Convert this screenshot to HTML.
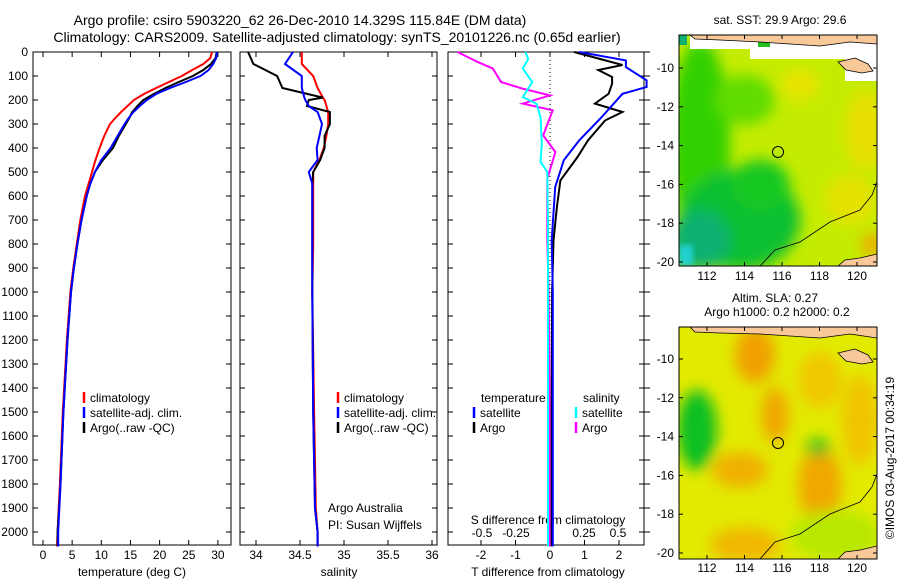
<!DOCTYPE html>
<html><head><meta charset="utf-8">
<style>
body{margin:0;background:#fff;}
svg{display:block;font-family:"Liberation Sans",sans-serif;}
text{font-size:12px;fill:#000;}
</style></head>
<body>
<svg id="chart" width="900" height="580" viewBox="0 0 900 580">
<defs>
<filter id="blur6" x="-20%" y="-20%" width="140%" height="140%"><feGaussianBlur stdDeviation="7"/></filter>
<filter id="blur3" x="-20%" y="-20%" width="140%" height="140%"><feGaussianBlur stdDeviation="3"/></filter>
<clipPath id="clipTop"><rect x="679" y="35" width="198" height="231"/></clipPath>
<clipPath id="clipBot"><rect x="679" y="327" width="198" height="232"/></clipPath>
</defs>
<text x="300" y="25" text-anchor="middle" style="font-size:14px">Argo profile: csiro 5903220_62 26-Dec-2010 14.329S 115.84E (DM data)</text>
<text x="337" y="42" text-anchor="middle" style="font-size:14px">Climatology: CARS2009. Satellite-adjusted climatology: synTS_20101226.nc (0.65d earlier)</text>

<!-- maps -->
<g clip-path="url(#clipTop)">
<rect x="679" y="35" width="198" height="231" fill="#c4ec00"/>
<g filter="url(#blur6)">
<ellipse cx="700" cy="140" rx="30" ry="100" fill="#30d000"/>
<ellipse cx="740" cy="220" rx="60" ry="50" fill="#10c030"/>
<ellipse cx="760" cy="185" rx="30" ry="25" fill="#18c820"/>
<ellipse cx="700" cy="240" rx="30" ry="30" fill="#10b070"/>
<ellipse cx="745" cy="100" rx="30" ry="25" fill="#60dc00"/>
<ellipse cx="800" cy="85" rx="20" ry="15" fill="#e8e400"/>
<ellipse cx="865" cy="130" rx="20" ry="40" fill="#e8e000"/>
<ellipse cx="850" cy="200" rx="25" ry="25" fill="#e6e200"/>
<ellipse cx="872" cy="245" rx="10" ry="12" fill="#f0a800"/>
</g>
<rect x="679" y="245" width="14" height="21" fill="#20d0d0" filter="url(#blur3)"/>
<rect x="690" y="35" width="187" height="14" fill="#fff"/>
<rect x="750" y="49" width="127" height="10" fill="#fff"/>
<rect x="845" y="59" width="32" height="22" fill="#fff"/>
<rect x="679" y="35" width="8" height="10" fill="#10b070"/>
<rect x="758" y="37" width="12" height="10" fill="#20c020"/>
<rect x="778" y="35" width="10" height="8" fill="#10b070"/>
<path d="M690 35 L877 35 L877 44 L850 42 L820 46 L790 44 L760 42 L720 40 L695 39 Z" fill="#f8c898" stroke="#000" stroke-width="0.8"/>
<path d="M838 62 L855 58 L868 64 L873 71 L862 73 L846 70 Z" fill="#f8c898" stroke="#000" stroke-width="0.8"/>
<path d="M838 266 L845 260 L860 258 L877 254 L877 266 Z" fill="#f8c898" stroke="#000" stroke-width="0.8"/>
<path d="M760 266 L775 250 L800 242 L830 222 L860 210 L872 195 L877 182" fill="none" stroke="#000" stroke-width="0.8"/>
<circle cx="778" cy="152" r="5.5" fill="none" stroke="#000" stroke-width="1"/>
</g>
<rect x="679" y="35" width="198" height="231" fill="none" stroke="#000" stroke-width="1"/>

<g clip-path="url(#clipBot)">
<rect x="679" y="327" width="198" height="232" fill="#e2ea00"/>
<g filter="url(#blur6)">
<ellipse cx="755" cy="355" rx="20" ry="28" fill="#f0a000"/>
<ellipse cx="775" cy="415" rx="14" ry="28" fill="#f0a800"/>
<ellipse cx="740" cy="470" rx="28" ry="18" fill="#f0b000"/>
<ellipse cx="820" cy="485" rx="22" ry="38" fill="#f0a800"/>
<ellipse cx="820" cy="380" rx="22" ry="28" fill="#f0c800"/>
<ellipse cx="745" cy="545" rx="35" ry="18" fill="#f0b800"/>
<ellipse cx="860" cy="420" rx="18" ry="45" fill="#f0c400"/>
<ellipse cx="697" cy="430" rx="20" ry="40" fill="#10c020"/>
<ellipse cx="818" cy="447" rx="12" ry="8" fill="#20c020"/>
<ellipse cx="835" cy="535" rx="45" ry="25" fill="#b8e800"/>
</g>
<path d="M690 327 L877 327 L877 338 L850 334 L820 338 L790 336 L760 334 L720 333 L695 332 Z" fill="#f8c898" stroke="#000" stroke-width="0.8"/>
<path d="M838 353 L855 349 L868 355 L873 362 L862 364 L846 361 Z" fill="#f8c898" stroke="#000" stroke-width="0.8"/>
<path d="M838 559 L845 552 L860 550 L877 546 L877 559 Z" fill="#f8c898" stroke="#000" stroke-width="0.8"/>
<path d="M760 559 L775 542 L800 534 L830 514 L860 502 L872 487 L877 474" fill="none" stroke="#000" stroke-width="0.8"/>
<circle cx="778" cy="443" r="5.5" fill="none" stroke="#000" stroke-width="1"/>
</g>
<rect x="679" y="327" width="198" height="232" fill="none" stroke="#000" stroke-width="1"/>
<text x="780" y="24" text-anchor="middle">sat. SST: 29.9 Argo: 29.6</text>
<text x="775" y="302" text-anchor="middle">Altim. SLA: 0.27</text>
<text x="777" y="316" text-anchor="middle">Argo h1000: 0.2 h2000: 0.2</text>
<text transform="translate(894,458) rotate(-90)" text-anchor="middle">©IMOS 03-Aug-2017 00:34:19</text>
<g id="mapaxes"></g>

<g id="panels"></g>
</svg>
<script>
// ---------- data ----------
const depthTicks = [0,100,200,300,400,500,600,700,800,900,1000,1100,1200,1300,1400,1500,1600,1700,1800,1900,2000];
const tempTicks = [0,5,10,15,20,25,30];
const salTicks = [34,34.5,35,35.5,36];
const salTickLabels = ["34","34.5","35","35.5","36"];
const tdiffTicks = [-2,-1,0,1,2];
const sdiffTicks = [-0.5,-0.25,0,0.25,0.5];
const sdiffTickLabels = ["-0.5","-0.25","0","0.25","0.5"];

const tDepth = [0,25,50,75,100,125,150,175,200,225,250,275,300,350,400,450,500,550,600,700,800,900,1000,1200,1500,1800,2000,2060];
const tClim  = [29.0,28.7,27.5,25.6,23.8,21.6,19.4,17.3,15.6,14.5,13.4,12.4,11.5,10.5,9.7,9.0,8.4,7.8,7.2,6.4,5.8,5.2,4.7,4.1,3.4,2.9,2.5,2.4];
const tSat   = [29.8,29.7,29.2,28.4,27.0,24.5,21.8,19.4,17.8,16.6,15.5,14.7,14.0,12.8,11.6,10.0,8.9,8.1,7.5,6.6,5.9,5.3,4.8,4.2,3.5,3.0,2.6,2.6];
const tArgo  = [29.8,29.6,28.8,27.5,25.7,23.3,21.0,19.0,17.2,16.2,15.3,14.8,14.2,13.0,12.0,10.3,8.9,8.1,7.5,6.6,5.9,5.3,4.8,4.2,3.5,3.0,2.5,2.5];

const sDepth = [0,50,100,150,190,200,225,250,300,350,400,450,500,550,600,800,1000,1500,1900,2000,2060];
const sClim  = [34.52,34.52,34.65,34.7,34.76,34.78,34.8,34.82,34.82,34.8,34.77,34.72,34.65,34.65,34.65,34.65,34.64,34.66,34.68,34.7,34.7];
const sSat   = [34.42,34.33,34.52,34.52,34.55,34.56,34.6,34.7,34.75,34.72,34.69,34.7,34.6,34.64,34.64,34.64,34.64,34.65,34.67,34.7,34.7];
const sArgo  = [33.91,33.97,34.24,34.3,34.76,34.6,34.58,34.84,34.84,34.78,34.78,34.73,34.65,34.64,34.64,34.64,34.64,34.65,34.67,34.7,34.7];

const dtDepth = [0,54,75,104,132,174,215,250,285,368,437,535,646,785,1000,1500,2060];
const dtArgo  = [0.7,2.1,1.4,1.8,1.8,1.7,1.3,2.1,1.6,1.1,0.8,0.3,0.2,0.1,0.06,0.05,0.05];
const dtDepthS = [0,35,63,118,146,174,271,368,451,563,785,1000,1500,2060];
const dtSat   = [0.85,2.2,2.2,2.8,2.8,2.1,1.5,0.85,0.4,0.15,0.05,0.08,0.08,0.08];
const dsDepth = [0,42,69,125,153,181,215,243,347,417,528,778,1000,1500,2060];
const dsArgo  = [-0.68,-0.53,-0.42,-0.36,-0.2,0,-0.2,0.02,-0.05,0.04,-0.02,-0.02,-0.01,0,0];
const dsDepthS = [0,30,69,125,188,215,271,381,458,500,700,1000,1500,2060];
const dsSat   = [-0.18,-0.16,-0.2,-0.13,-0.2,-0.1,-0.07,-0.06,-0.07,-0.02,-0.015,-0.015,-0.015,-0.015];

const lonTicks = [112,114,116,118,120];
const latTicks = [-10,-12,-14,-16,-18,-20];

// ---------- axes ----------
const NS = "http://www.w3.org/2000/svg";
const top0 = 52, pxPerM = 0.24, bottom0 = 545;
function yD(d){ return top0 + d*pxPerM; }
function xT(t){ return 43 + t*5.83; }
function xS(s){ return 256 + (s-34)*88; }
function xDT(t){ return 550 + t*34.5; }
function xDS(s){ return 550 + s*136; }
function lonTop(l){ return 707 + (l-112)*18.75; }
function latTop(l){ return 68 + (-10-l)*19.4; }
function latBot(l){ return 359 + (-10-l)*19.4; }

const panels = document.getElementById('panels');
function mk(tag, attrs, parent){
  const e = document.createElementNS(NS, tag);
  for (const k in attrs) e.setAttribute(k, attrs[k]);
  (parent||panels).appendChild(e);
  return e;
}
function line(xs, ds, fx, color, name){
  const pts = xs.map((v,i)=> fx(v).toFixed(1)+','+yD(ds[i]).toFixed(1)).join(' ');
  const p = mk('polyline', {points:pts, fill:'none', stroke:color, 'stroke-width':2});
  
  
}
function frame(x0,x1,name){
  const r = mk('rect',{x:x0,y:top0,width:x1-x0,height:bottom0-top0,fill:'none',stroke:'#000','stroke-width':1});
  
  
  depthTicks.forEach(d=>{
    mk('line',{x1:x0,x2:x0+5,y1:yD(d),y2:yD(d),stroke:'#000'});
    mk('line',{x1:x1,x2:x1-5,y1:yD(d),y2:yD(d),stroke:'#000'});
  });
}
function xticks(ticks, labels, fx, ty, name){
  ticks.forEach((t,i)=>{
    mk('line',{x1:fx(t),x2:fx(t),y1:bottom0,y2:bottom0-5,stroke:'#000'});
    mk('line',{x1:fx(t),x2:fx(t),y1:top0,y2:top0+5,stroke:'#000'});
    const tx = mk('text',{x:fx(t),y:ty,'text-anchor':'middle'});
    tx.textContent = labels[i];
    
    
  });
}
function label(x,y,txt,name,anchor){
  const t = mk('text',{x:x,y:y,'text-anchor':anchor||'start'});
  t.textContent = txt;
  
  
}
function legend(x,y,color,txt,name){
  const l = mk('line',{x1:x,x2:x,y1:y-10,y2:y+1,stroke:color,'stroke-width':2.5});
  
  
  label(x+6,y,txt,name);
}

// panel 1 temperature
frame(33,231,'temperature-panel');
depthTicks.forEach(d=>{
  const t = mk('text',{x:28,y:yD(d)+4,'text-anchor':'end'});
  t.textContent = d;
  
  
});
xticks(tempTicks, tempTicks.map(String), xT, 559, 'temperature-tick-label');
label(132,576,'temperature (deg C)','temperature-axis-title','middle');
line(tClim,tDepth,xT,'#f00','temp-climatology-line');
line(tArgo,tDepth,xT,'#000','temp-argo-line');
line(tSat,tDepth,xT,'#00f','temp-satellite-line');
legend(84,402,'#f00','climatology','legend-climatology');
legend(84,417,'#00f','satellite-adj. clim.','legend-satellite');
legend(84,432,'#000','Argo(..raw -QC)','legend-argo');

// panel 2 salinity
frame(240,437,'salinity-panel');
xticks(salTicks, salTickLabels, xS, 559, 'salinity-tick-label');
label(339,576,'salinity','salinity-axis-title','middle');
line(sClim,sDepth,xS,'#f00','sal-climatology-line');
line(sArgo,sDepth,xS,'#000','sal-argo-line');
line(sSat,sDepth,xS,'#00f','sal-satellite-line');
legend(338,402,'#f00','climatology','legend-sal-climatology');
legend(338,417,'#00f','satellite-adj. clim.','legend-sal-satellite');
legend(338,432,'#000','Argo(..raw -QC)','legend-sal-argo');
label(328,512,'Argo Australia','credit-argo-australia');
label(328,529,'PI: Susan Wijffels','credit-pi');

// panel 3 differences
frame(448,644,'difference-panel');
depthTicks.forEach(d=>{ mk('line',{x1:644,x2:650,y1:yD(d),y2:yD(d),stroke:'#000'}); });
mk('line',{x1:xDT(0),x2:xDT(0),y1:top0,y2:bottom0,stroke:'#000','stroke-dasharray':'1,3'});
xticks(tdiffTicks, tdiffTicks.map(String), xDT, 559, 'tdiff-tick-label');
sdiffTicks.forEach((t,i)=>{
  const tx = mk('text',{x:xDS(t),y:537,'text-anchor':'middle'});
  tx.textContent = sdiffTickLabels[i];
  
  
});
label(548,524,'S difference from climatology','sdiff-axis-title','middle');
label(548,576,'T difference from climatology','tdiff-axis-title','middle');
line(dsArgo,dsDepth,xDS,'#f0f','sdiff-argo-line');
line(dsSat,dsDepthS,xDS,'#0ff','sdiff-satellite-line');
line(dtArgo,dtDepth,xDT,'#000','tdiff-argo-line');
line(dtSat,dtDepthS,xDT,'#00f','tdiff-satellite-line');
label(481,402,'temperature','legend-temperature-header');
label(583,402,'salinity','legend-salinity-header');
legend(474,417,'#00f','satellite','legend-t-satellite');
legend(474,432,'#000','Argo','legend-t-argo');
legend(576,417,'#0ff','satellite','legend-s-satellite');
legend(576,432,'#f0f','Argo','legend-s-argo');

// map axes
const ma = document.getElementById('mapaxes');
[[35,266,latTop,280],[327,559,latBot,572]].forEach(([yt,yb,fl,ly],mi)=>{
  lonTicks.forEach(l=>{
    const x = lonTop(l);
    mk('line',{x1:x,x2:x,y1:yb,y2:yb-4,stroke:'#000'},ma);
    mk('line',{x1:x,x2:x,y1:yt,y2:yt+4,stroke:'#000'},ma);
    const t = mk('text',{x:x,y:ly,'text-anchor':'middle'},ma);
    t.textContent = l;
    
    
  });
  latTicks.forEach(l=>{
    const y = fl(l);
    mk('line',{x1:679,x2:683,y1:y,y2:y,stroke:'#000'},ma);
    mk('line',{x1:877,x2:873,y1:y,y2:y,stroke:'#000'},ma);
    const t = mk('text',{x:674,y:y+4,'text-anchor':'end'},ma);
    t.textContent = l;
    
    
  });
});
</script>
</body></html>
